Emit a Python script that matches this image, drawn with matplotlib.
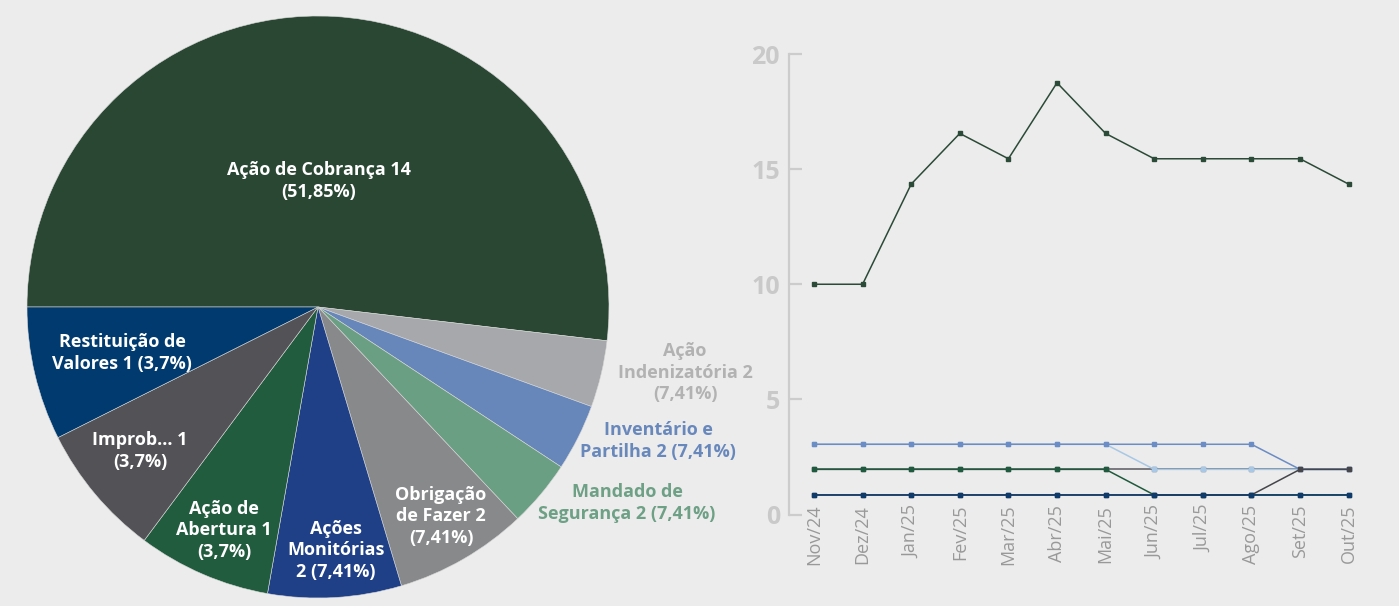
import matplotlib
matplotlib.use("Agg")
import matplotlib.pyplot as plt

plt.rcParams['font.family'] = ['Open Sans', 'DejaVu Sans']

# ---------------- data ----------------
pie_values = [14, 1, 1, 1, 2, 2, 2, 2, 2]
pie_labels = [
    "Ação de Cobrança 14\n(51,85%)",
    "Ação\nIndenizatória 2\n(7,41%)",
    "Inventário e\nPartilha 2 (7,41%)",
    "Mandado de\nSegurança 2 (7,41%)",
    "Obrigação\nde Fazer 2\n(7,41%)",
    "Ações\nMonitórias\n2 (7,41%)",
    "Ação de\nAbertura 1\n(3,7%)",
    "Improb... 1\n(3,7%)",
    "Restituição de\nValores 1 (3,7%)",
]
pie_colors = ["#2a4734", "#a7a8ab", "#6787ba", "#6a9f84", "#87898b",
              "#1f3f87", "#215c3f", "#525257", "#003a6e"]
label_colors = ["white", "#b2b2b2", "#6888bc", "#6da085", "white",
                "white", "white", "white", "white"]

months = ["Nov/24", "Dez/24", "Jan/25", "Fev/25", "Mar/25", "Abr/25",
          "Mai/25", "Jun/25", "Jul/25", "Ago/25", "Set/25", "Out/25"]
s_main = [10, 10, 14.35, 16.55, 15.45, 18.75, 16.55, 15.45, 15.45, 15.45, 15.45, 14.35]
s_gray_a = [1.96] * 12
s_pale = [3.05] * 7 + [1.96] * 5
s_steel = [3.05] * 10 + [1.96] * 2
s_green_b = [1.96] * 7 + [0.85] * 5
s_gray_b = [0.85] * 10 + [1.96] * 2
s_navy = [0.85] * 12
yticks = [0, 5, 10, 15, 20]

# ---------------- figure ----------------
W, H = 1399, 606
bg = "#ececec"
fig = plt.figure(figsize=(W / 100, H / 100), dpi=100, facecolor=bg)

# pie
cx, cy, R = 318, 307, 291
axp = fig.add_axes([(cx - R) / W, (H - cy - R) / H, 2 * R / W, 2 * R / H])
axp.set_facecolor(bg)
axp.pie(pie_values, colors=pie_colors, startangle=180, counterclock=False,
        wedgeprops=dict(edgecolor="#d8d8d8", linewidth=0.4))
axp.set_xlim(-1, 1)
axp.set_ylim(-1, 1)
axp.set_aspect("equal")
axp.axis("off")

label_pix = [(319, 181), (685, 373), (658, 441), (627, 503), (441, 516),
             (336, 550), (224, 530), (140, 451), (122, 353)]
for txt, (px, py), c in zip(pie_labels, label_pix, label_colors):
    axp.text((px - cx) / R, (cy - py) / R, txt, color=c, fontsize=13,
             fontweight="bold", ha="center", va="center", linespacing=1.25,
             clip_on=False)

# line chart
x0_pix, step = 814, 48.6
left_pix, right_pix = 789, 1375
top_pix, bot_pix = 54, 514.5
axl = fig.add_axes([left_pix / W, (H - bot_pix) / H, (right_pix - left_pix) / W,
                    (bot_pix - top_pix) / H])
axl.set_facecolor(bg)
x = list(range(len(months)))

def draw(y, color, z):
    axl.plot(x, y, color=color, lw=1.1, marker="s", markersize=3.2,
             markerfacecolor=color, markeredgecolor=color, zorder=z, clip_on=False)

draw(s_gray_a, "#5b5b60", 2)
draw(s_pale, "#a8c8e6", 3)
draw(s_steel, "#6b8cc4", 4)
draw(s_green_b, "#1f5a3e", 5)
draw(s_gray_b, "#45454a", 6)
draw(s_navy, "#0e3a6c", 7)
draw(s_main, "#2b4a37", 8)

axl.set_xlim((left_pix - x0_pix) / step, (right_pix - x0_pix) / step)
axl.set_ylim(0, 20)
axl.set_yticks(yticks)
axl.set_yticklabels([str(v) for v in yticks])
axl.set_xticks(x)
axl.set_xticklabels(months, rotation=90)
for s in ["top", "right", "bottom"]:
    axl.spines[s].set_visible(False)
axl.spines["left"].set_color("#cccccc")
axl.spines["left"].set_linewidth(1.6)
axl.tick_params(axis="y", direction="in", length=9.5, width=1.6, color="#cccccc",
                pad=6.5, labelsize=18, labelcolor="#c9c9c9")
for t in axl.get_yticklabels():
    t.set_fontweight("bold")
axl.tick_params(axis="x", length=0, pad=-7, labelsize=13, labelcolor="#999999")

fig.savefig("out.png", dpi=100, facecolor=bg)
